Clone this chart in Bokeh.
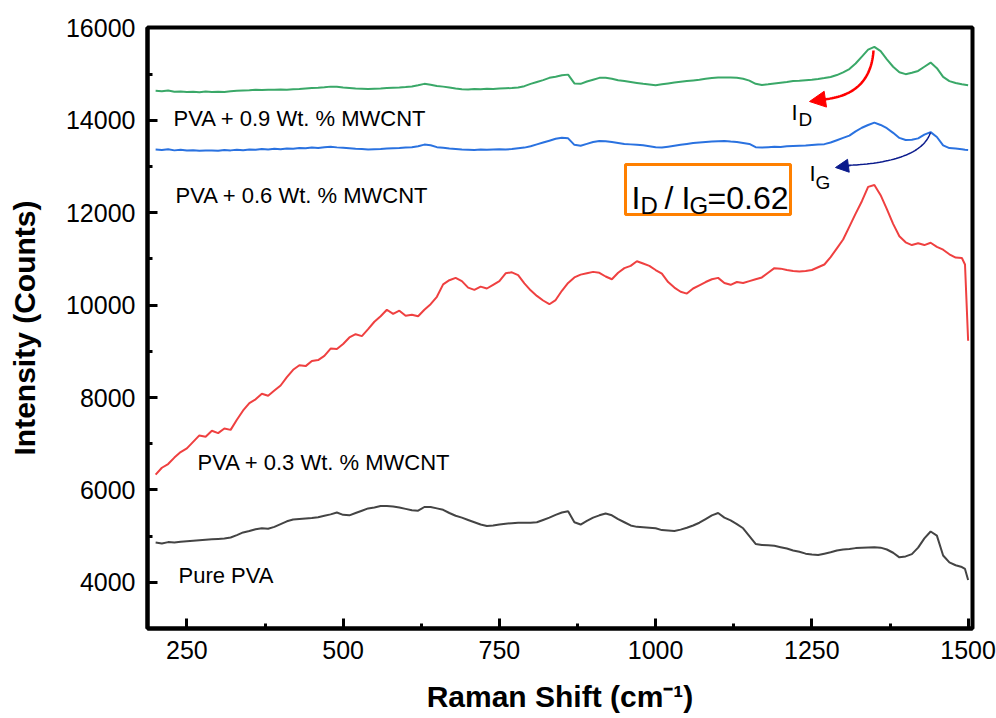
import numpy as np
from bokeh.plotting import figure
from bokeh.models import Range1d, SingleIntervalTicker, Label, BoxAnnotation, Arrow, NormalHead
from bokeh.embed import file_html
from bokeh.resources import INLINE

# ---------------- data ----------------
RAMAN_SHIFT = [
    200, 210, 220, 230, 240, 250, 260, 270, 280, 290,
    300, 310, 320, 330, 340, 350, 360, 370, 380, 390,
    400, 410, 420, 430, 440, 450, 460, 470, 480, 490,
    500, 510, 520, 530, 540, 550, 560, 570, 580, 590,
    600, 610, 620, 630, 640, 650, 660, 670, 680, 690,
    700, 710, 720, 730, 740, 750, 760, 770, 780, 790,
    800, 810, 820, 830, 840, 850, 860, 870, 880, 890,
    900, 910, 920, 930, 940, 950, 960, 970, 980, 990,
    1000, 1010, 1020, 1030, 1040, 1050, 1060, 1070, 1080, 1090,
    1100, 1110, 1120, 1130, 1140, 1150, 1160, 1170, 1180, 1190,
    1200, 1210, 1220, 1230, 1240, 1250, 1260, 1270, 1280, 1290,
    1300, 1310, 1320, 1330, 1340, 1350, 1360, 1370, 1380, 1390,
    1400, 1410, 1420, 1430, 1440, 1450, 1460, 1470, 1480, 1490,
    1495, 1500,
]

PURE_PVA = [
    4860, 4840, 4870, 4860, 4880, 4890, 4900, 4910, 4920, 4930,
    4940, 4950, 4970, 5020, 5080, 5110, 5150, 5170, 5160, 5200,
    5260, 5320, 5360, 5370, 5380, 5390, 5410, 5440, 5470, 5510,
    5460, 5450, 5500, 5550, 5600, 5620, 5650, 5650, 5640, 5620,
    5590, 5560, 5550, 5630, 5630, 5600, 5570, 5500, 5440, 5400,
    5350, 5300, 5250, 5220, 5230, 5250, 5270, 5280, 5290, 5290,
    5290, 5300, 5350, 5400, 5460, 5510, 5540, 5300, 5250, 5330,
    5400, 5450, 5490, 5450, 5370, 5300, 5230, 5200, 5190, 5180,
    5170, 5130, 5120, 5110, 5140, 5180, 5230, 5290, 5370, 5450,
    5500, 5400, 5340, 5260, 5170, 5000, 4830, 4810, 4800, 4790,
    4760, 4730, 4690, 4660, 4620, 4600, 4590, 4620, 4650, 4690,
    4710, 4720, 4740, 4750, 4755, 4760, 4750, 4710, 4640, 4540,
    4560, 4610, 4750, 4950, 5100, 5010, 4580, 4430, 4370, 4330,
    4290, 4050,
]

PVA_03_MWCNT = [
    6330, 6480, 6560, 6700, 6820, 6900, 7040, 7180, 7150, 7280,
    7230, 7330, 7300, 7520, 7720, 7880, 7960, 8080, 8040, 8150,
    8260, 8440, 8600, 8700, 8680, 8790, 8810, 8900, 9060, 9050,
    9160, 9300, 9370, 9330, 9480, 9640, 9760, 9900, 9810, 9880,
    9770, 9790, 9760, 9900, 10020, 10180, 10450, 10540, 10590, 10520,
    10380, 10330, 10400, 10360, 10440, 10520, 10690, 10710, 10650, 10470,
    10320, 10200, 10100, 10020, 10110, 10310, 10480, 10600, 10660, 10690,
    10720, 10700, 10620, 10560, 10700, 10800, 10850, 10950, 10900, 10850,
    10760, 10680, 10500, 10380, 10290, 10250, 10360, 10430, 10500, 10560,
    10590, 10480, 10440, 10500, 10480, 10520, 10560, 10600, 10700, 10800,
    10790, 10760, 10740, 10730, 10740, 10760, 10820, 10880, 11040, 11230,
    11420, 11700, 11980, 12250, 12560, 12600, 12380, 12080, 11760, 11490,
    11360, 11300, 11340, 11300, 11350, 11260, 11200, 11100, 11030, 11020,
    10880, 9230,
]

PVA_06_MWCNT = [
    13370, 13360, 13375, 13350, 13365, 13345, 13355, 13340, 13345, 13350,
    13340, 13360, 13350, 13365, 13355, 13370, 13365, 13380, 13370, 13385,
    13375, 13390, 13385, 13400, 13395, 13410, 13400, 13420, 13430, 13415,
    13405, 13395, 13385, 13380, 13370, 13375, 13380, 13390, 13395, 13400,
    13410, 13420, 13440, 13475, 13460, 13420, 13405, 13390, 13380, 13370,
    13365, 13360, 13370, 13365, 13370, 13375, 13370, 13380, 13395, 13410,
    13440, 13480, 13520, 13560, 13600, 13625, 13610, 13470, 13450, 13490,
    13530, 13555, 13550, 13530, 13510, 13490, 13480, 13470, 13460, 13440,
    13420, 13410, 13430, 13450, 13470, 13490, 13510, 13520, 13530, 13540,
    13550, 13555, 13540, 13530, 13510, 13490, 13420, 13410, 13420, 13430,
    13425, 13440, 13445, 13450, 13455, 13465, 13475, 13485, 13520, 13570,
    13620, 13670, 13760, 13840, 13900, 13950, 13900, 13830, 13730, 13620,
    13575, 13580, 13610, 13690, 13745, 13640, 13460, 13400, 13390, 13375,
    13365, 13360,
]

PVA_09_MWCNT = [
    14640, 14630, 14645, 14620, 14625, 14615, 14620, 14610, 14625, 14615,
    14620, 14615, 14630, 14640, 14645, 14650, 14660, 14655, 14665, 14660,
    14670, 14665, 14675, 14680, 14690, 14700, 14705, 14715, 14730, 14725,
    14710, 14700, 14690, 14685, 14680, 14685, 14690, 14700, 14705, 14710,
    14720, 14735, 14760, 14790, 14770, 14745, 14730, 14710, 14690, 14675,
    14670, 14680, 14675, 14685, 14680, 14690, 14695, 14700, 14710, 14740,
    14790, 14830, 14870, 14920, 14945, 14975, 14990, 14800, 14790, 14840,
    14880, 14920, 14920, 14900, 14870, 14850, 14830, 14810, 14790, 14775,
    14760, 14780, 14800, 14820, 14835, 14850, 14865, 14880, 14900, 14915,
    14925, 14930, 14925, 14920, 14900, 14860, 14790, 14765, 14780, 14800,
    14815, 14830, 14850, 14855, 14870, 14880, 14895, 14915, 14940, 14980,
    15040, 15110, 15230, 15380, 15530, 15590, 15500, 15320, 15160, 15040,
    15000, 15030, 15070, 15160, 15250, 15130, 14940, 14850, 14810, 14780,
    14770, 14760,
]

SERIES_NAMES = ["Pure PVA", "PVA + 0.3 Wt. % MWCNT", "PVA + 0.6 Wt. % MWCNT", "PVA + 0.9 Wt. % MWCNT"]
SERIES_VALUES = [PURE_PVA, PVA_03_MWCNT, PVA_06_MWCNT, PVA_09_MWCNT]
SERIES_COLORS = ["#444444", "#ef4040", "#2a72e0", "#3aa868"]

X_LABEL = "Raman Shift (cm\u207b\u00b9)"
Y_LABEL = "Intensity (Counts)"
RATIO_TEXT = "0.62"

# ---------------- figure ----------------
X0, X1 = 187, 1507
Y0, Y1 = 3000, 16010
FL, FR, FT, FB = 147, 972, 27, 628  # frame edges in pixels

p = figure(width=996, height=718, output_backend="svg", toolbar_location=None,
           x_range=Range1d(X0, X1), y_range=Range1d(Y0, Y1),
           min_border_left=FL, min_border_right=996 - FR,
           min_border_top=FT, min_border_bottom=718 - FB)
p.grid.visible = False
p.background_fill_color = "white"
p.border_fill_color = "white"
p.outline_line_color = "black"
p.outline_line_width = 4
p.outline_line_alpha = 1.0

p.xaxis.ticker = SingleIntervalTicker(interval=250, num_minor_ticks=2)
p.yaxis.ticker = SingleIntervalTicker(interval=2000, num_minor_ticks=2)

FONT = "Liberation Sans"
for ax in (p.xaxis[0], p.yaxis[0]):
    ax.axis_line_width = 4
    ax.axis_line_color = "black"
    ax.major_tick_in = 10
    ax.major_tick_out = 0
    ax.minor_tick_in = 5
    ax.minor_tick_out = 0
    ax.major_tick_line_width = 3
    ax.minor_tick_line_width = 3
    ax.major_tick_line_color = "black"
    ax.minor_tick_line_color = "black"
    ax.major_label_text_font = FONT
    ax.major_label_text_font_size = "25px"
    ax.major_label_text_color = "black"
    ax.axis_label_text_font = FONT
    ax.axis_label_text_font_style = "bold"
    ax.axis_label_text_font_size = "30px"
    ax.axis_label_text_color = "black"
    ax.major_label_standoff = 12

p.xaxis.axis_label = X_LABEL
p.yaxis.axis_label = Y_LABEL
p.xaxis.axis_label_standoff = 18
p.yaxis.axis_label_standoff = 22

for vals, col in zip(SERIES_VALUES, SERIES_COLORS):
    p.line(RAMAN_SHIFT, vals, line_color=col, line_width=2)

# pixel -> data helpers for annotation placement
def dx(px):
    return X0 + (px - FL) * (X1 - X0) / (FR - FL)

def dy(py):
    return Y1 - (py - FT) * (Y1 - Y0) / (FB - FT)

# series labels
label_pos = [(178, 575), (197, 462), (175, 195), (173, 118)]
for name, (lx, ly) in zip(SERIES_NAMES, label_pos):
    p.add_layout(Label(x=dx(lx), y=dy(ly), text=name, text_font=FONT,
                       text_font_size="22px", text_color="black",
                       text_baseline="middle", text_align="left"))

# ratio box
p.add_layout(BoxAnnotation(left=dx(625), right=dx(790), top=dy(164), bottom=dy(214),
                           fill_alpha=0, line_color="#ff8000", line_alpha=1.0, line_width=3))

def txt(px, py, s, size):
    p.add_layout(Label(x=dx(px), y=dy(py), text=s, text_font=FONT, text_font_size=size,
                       text_color="black", text_baseline="alphabetic", text_align="left"))

txt(631, 197, "I", "32px")
txt(640, 205, "D", "24px")
txt(664, 197, "/", "32px")
txt(681, 197, "I", "32px")
txt(689, 205, "G", "24px")
txt(707, 197, "=" + RATIO_TEXT, "32px")

# I_D / I_G peak labels
txt(791, 112, "I", "22px")
txt(798, 119, "D", "19px")
txt(809, 173, "I", "22px")
txt(815, 182, "G", "19px")

# curved arrows
def qcurve(p0, c, p1, n=40):
    t = np.linspace(0, 1, n)
    xs = (1 - t) ** 2 * p0[0] + 2 * (1 - t) * t * c[0] + t ** 2 * p1[0]
    ys = (1 - t) ** 2 * p0[1] + 2 * (1 - t) * t * c[1] + t ** 2 * p1[1]
    return [dx(v) for v in xs], [dy(v) for v in ys]

cx, cy = qcurve((873, 50), (870, 95), (822, 99))
p.line(cx, cy, line_color="red", line_width=2.5)
p.add_layout(Arrow(end=NormalHead(size=16, fill_color="red", line_color="red"),
                   x_start=dx(826), y_start=dy(98.5), x_end=dx(809), y_end=dy(101),
                   line_color="red", line_width=2.5))

bx, by = qcurve((930, 132), (920, 162), (845, 165))
p.line(bx, by, line_color="#0a1a8c", line_width=1.5)
p.add_layout(Arrow(end=NormalHead(size=13, fill_color="#0a1a8c", line_color="#0a1a8c"),
                   x_start=dx(850), y_start=dy(165), x_end=dx(835), y_end=dy(167),
                   line_color="#0a1a8c", line_width=1.5))

open("out.html", "w").write(file_html(p, INLINE))
